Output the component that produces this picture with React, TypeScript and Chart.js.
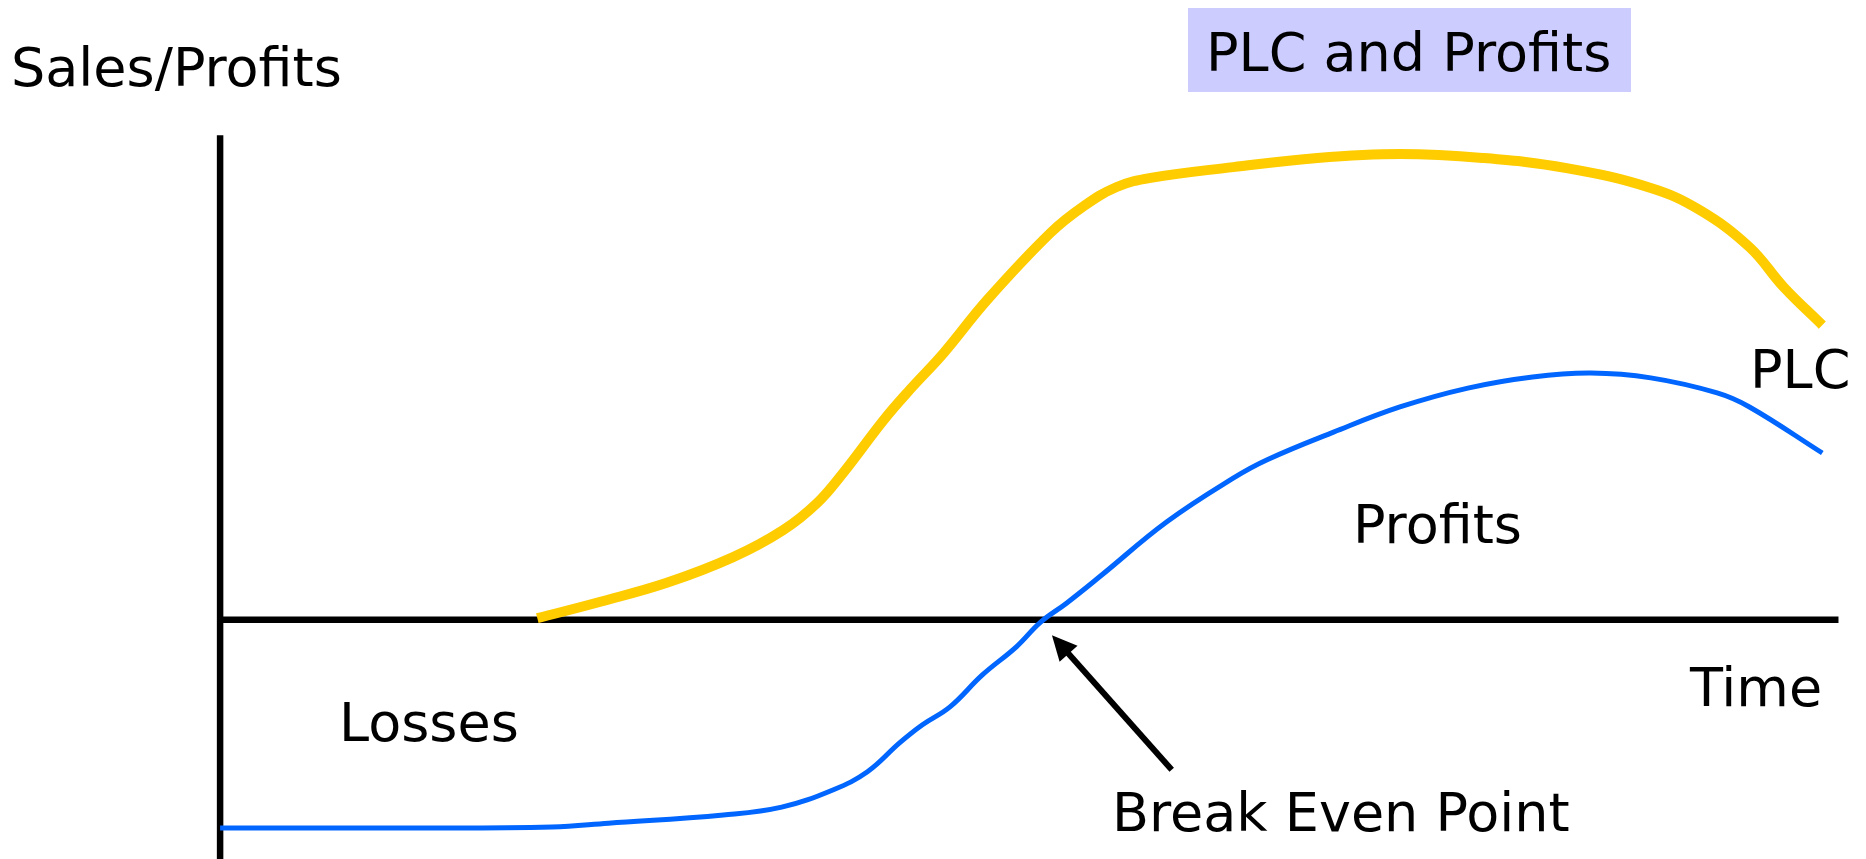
import React, { useEffect, useRef } from "react";
import { Chart, registerables } from "chart.js";

Chart.register(...registerables);

// Time axis (0..100) and Sales/Profits axis (0 = break-even)
const plcTime = [19.6, 23.5, 27.6, 31.7, 34.8, 36.9, 38.5, 41.0, 42.6, 44.7, 47.4, 51.3, 53.3, 55.4, 57.5, 62.6, 67.8, 72.9, 78.0, 83.2, 88.4, 91.4, 94.5, 96.6, 99.0];
const plcSales = [0.3, 3.7, 7.6, 12.9, 18.5, 24.1, 30.3, 41.2, 47.4, 55.0, 66.0, 79.8, 85.2, 89.3, 91.2, 93.4, 95.3, 96.1, 95.3, 93.2, 89.1, 84.6, 76.9, 68.7, 60.8];

const profitTime = [0, 11.1, 20.5, 24.0, 31.1, 34.7, 37.9, 40.0, 42.0, 43.4, 45.1, 47.1, 49.2, 50.7, 52.3, 54.4, 58.5, 62.6, 64.7, 68.8, 72.9, 77.1, 81.1, 84.7, 88.4, 92.5, 94.5, 99.0];
const profitValues = [-43.0, -43.0, -42.8, -42.0, -40.3, -38.7, -35.1, -31.4, -25.4, -21.7, -18.0, -11.4, -5.6, -0.5, 3.4, 9.0, 20.2, 29.2, 33.0, 38.7, 43.9, 47.8, 50.1, 50.9, 49.9, 46.8, 43.9, 34.4];

const axisTimeMax = 100;
const axisSalesMax = 100;

// Break even arrow: [tail, tip] in chart units
const arrowTime = [58.8, 51.4];
const arrowValue = [-31.0, -3.2];

const labels = ["Sales/Profits", "PLC and Profits", "Losses", "Profits", "Break Even Point", "Time", "PLC"];

const FONT = '54px "DejaVu Sans", Verdana, sans-serif';

const overlayPlugin = {
  id: "plcOverlay",
  beforeDatasetsDraw(chart: any) {
    const { ctx, scales, chartArea } = chart;
    const xs = scales.x;
    const ys = scales.y;
    ctx.save();
    ctx.strokeStyle = "#000000";
    ctx.lineWidth = 6.5;
    ctx.lineCap = "butt";
    ctx.beginPath();
    ctx.moveTo(xs.getPixelForValue(0), ys.getPixelForValue(axisSalesMax));
    ctx.lineTo(xs.getPixelForValue(0), chartArea.bottom);
    ctx.stroke();
    ctx.beginPath();
    ctx.moveTo(xs.getPixelForValue(0), ys.getPixelForValue(0));
    ctx.lineTo(xs.getPixelForValue(axisTimeMax), ys.getPixelForValue(0));
    ctx.stroke();
    ctx.restore();
  },
  afterDatasetsDraw(chart: any) {
    const { ctx, scales } = chart;
    const xs = scales.x;
    const ys = scales.y;
    ctx.save();
    const tx = xs.getPixelForValue(arrowTime[0]);
    const ty = ys.getPixelForValue(arrowValue[0]);
    const hx = xs.getPixelForValue(arrowTime[1]);
    const hy = ys.getPixelForValue(arrowValue[1]);
    const dx = hx - tx;
    const dy = hy - ty;
    const len = Math.hypot(dx, dy);
    const ux = dx / len;
    const uy = dy / len;
    const headLen = 25;
    const headHalf = 12;
    const bx = hx - ux * headLen;
    const by = hy - uy * headLen;
    ctx.strokeStyle = "#000";
    ctx.fillStyle = "#000";
    ctx.lineWidth = 6;
    ctx.beginPath();
    ctx.moveTo(tx, ty);
    ctx.lineTo(bx + ux * 4, by + uy * 4);
    ctx.stroke();
    ctx.beginPath();
    ctx.moveTo(hx, hy);
    ctx.lineTo(bx - uy * headHalf, by + ux * headHalf);
    ctx.lineTo(bx + uy * headHalf, by - ux * headHalf);
    ctx.closePath();
    ctx.fill();

    ctx.fillStyle = "#CCCCFF";
    ctx.fillRect(1188, 8, 443, 84);

    ctx.fillStyle = "#000";
    ctx.font = FONT;
    ctx.textBaseline = "alphabetic";
    ctx.textAlign = "left";
    const pos: [number, number][] = [
      [11, 86],
      [1206, 71],
      [339, 741],
      [1353, 543],
      [1112, 831],
      [1690, 706],
      [1750, 388],
    ];
    labels.forEach((t, i) => ctx.fillText(t, pos[i][0], pos[i][1]));
    ctx.restore();
  },
};

export default function App() {
  const ref = useRef<HTMLCanvasElement | null>(null);
  useEffect(() => {
    if (!ref.current) return;
    const chart = new Chart(ref.current, {
      type: "line",
      data: {
        datasets: [
          {
            label: "PLC",
            data: plcTime.map((t, i) => ({ x: t, y: plcSales[i] })),
            borderColor: "#FFCC00",
            borderWidth: 10,
            pointRadius: 0,
            fill: false,
            tension: 0.4,
            borderCapStyle: "butt",
            borderJoinStyle: "round",
          },
          {
            label: "Profits",
            data: profitTime.map((t, i) => ({ x: t, y: profitValues[i] })),
            borderColor: "#0066FF",
            borderWidth: 5,
            pointRadius: 0,
            fill: false,
            tension: 0.4,
            borderCapStyle: "butt",
            borderJoinStyle: "round",
          },
        ],
      },
      options: {
        animation: false,
        responsive: false,
        devicePixelRatio: 1,
        layout: { padding: 0 },
        events: [],
        scales: {
          x: { type: "linear", min: -13.6, max: 101.7, display: false },
          y: { type: "linear", min: -49.4, max: 127.9, display: false },
        },
        plugins: {
          legend: { display: false },
          tooltip: { enabled: false },
          title: { display: false },
        },
      },
      plugins: [overlayPlugin],
    });
    return () => chart.destroy();
  }, []);
  return (
    <div style={{ position: "fixed", left: 0, top: 0, width: 1866, height: 859, background: "#fff" }}>
      <canvas ref={ref} width={1866} height={859} style={{ width: 1866, height: 859, display: "block" }} />
    </div>
  );
}
